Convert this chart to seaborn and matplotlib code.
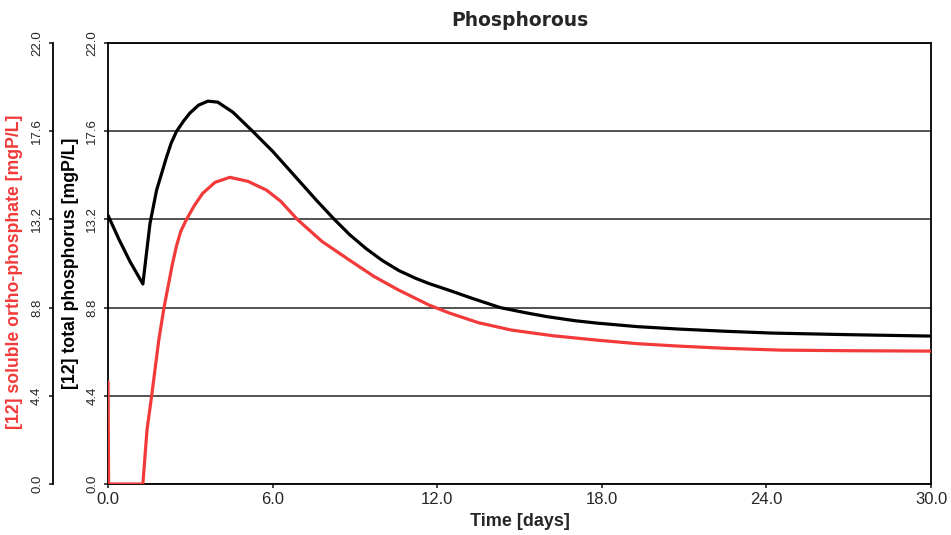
import pandas as pd
import seaborn as sns
import matplotlib.pyplot as plt

# values
time_total = [0.0, 0.4, 0.8, 1.27, 1.4, 1.53, 1.77, 2.13, 2.3, 2.5, 2.75, 2.98, 3.3, 3.64, 4.0, 4.55,
              5.27, 6.0, 6.98, 7.6, 8.25, 8.8, 9.4, 10.0, 10.6, 11.2, 11.7, 12.4, 13.3,
              14.3, 15.2, 16.0, 17.0, 17.8, 19.3, 20.8, 22.5, 24.2, 27.0, 30.0]
total_p = [13.4, 12.2, 11.1, 9.98, 11.5, 13.0, 14.66, 16.3, 17.0, 17.6, 18.1, 18.5, 18.9, 19.1, 19.05, 18.55,
           17.6, 16.6, 15.1, 14.15, 13.2, 12.45, 11.75, 11.15, 10.65, 10.27, 10.0, 9.68, 9.25,
           8.8, 8.55, 8.35, 8.15, 8.03, 7.85, 7.73, 7.62, 7.53, 7.45, 7.38]

time_ortho = [0.0, 0.02, 1.27, 1.42, 1.59, 1.85, 2.04, 2.35, 2.5, 2.65, 2.86, 3.15, 3.45, 3.9, 4.44,
              5.1, 5.78, 6.3, 6.9, 7.8, 8.8, 9.7, 10.6, 11.7, 12.44, 13.5, 14.7, 16.2,
              17.8, 19.3, 20.8, 22.5, 24.5, 27.0, 30.0]
ortho_p = [5.1, 0.0, 0.0, 2.69, 4.4, 7.18, 8.8, 11.0, 11.9, 12.6, 13.2, 13.9, 14.5, 15.05, 15.3,
           15.1, 14.66, 14.1, 13.2, 12.1, 11.17, 10.35, 9.67, 8.93, 8.53, 8.05, 7.68, 7.4,
           7.18, 7.0, 6.88, 6.77, 6.68, 6.65, 6.63]

y_ticks = [0.0, 4.4, 8.8, 13.2, 17.6, 22.0]
x_ticks = [0.0, 6.0, 12.0, 18.0, 24.0, 30.0]

red = '#f23a3a'

sns.set_style('white')
plt.rcParams['font.family'] = ['Liberation Sans', 'DejaVu Sans']

fig = plt.figure(figsize=(9.51, 5.35), dpi=100)
ax = fig.add_axes([0.1136, 0.0953, 0.8654, 0.8243])
ax2 = ax.twinx()

df_total = pd.DataFrame({'t': time_total, 'v': total_p})
df_ortho = pd.DataFrame({'t': time_ortho, 'v': ortho_p})

sns.lineplot(data=df_total, x='t', y='v', ax=ax, color='black', linewidth=2.3,
             estimator=None, sort=False, zorder=3)
sns.lineplot(data=df_ortho, x='t', y='v', ax=ax2, color=red, linewidth=2.3,
             estimator=None, sort=False, zorder=3)

# outer red axis on the left
ax2.yaxis.set_ticks_position('left')
ax2.yaxis.set_label_position('left')
ax2.spines['left'].set_position(('axes', -0.067))
ax2.spines['left'].set_visible(True)
ax2.spines['left'].set_color('black')
ax2.spines['left'].set_linewidth(1.3)
for k in ('right', 'top', 'bottom'):
    ax2.spines[k].set_visible(False)

for a in (ax, ax2):
    a.set_ylim(0, 22)
    a.set_yticks(y_ticks)
    a.set_yticklabels([f"{v:.1f}" for v in y_ticks])
    a.tick_params(axis='y', labelsize=9.5, labelrotation=90, direction='out',
                  length=3, width=1.2, pad=4, left=True, right=False)
    for lab in a.get_yticklabels():
        lab.set_va('center')

ax.set_xlim(0, 30)
ax.set_xticks(x_ticks)
ax.set_xticklabels([f"{v:.1f}" for v in x_ticks])
ax.tick_params(axis='x', labelsize=12, direction='out', length=3, width=1.2, pad=3, bottom=True)

# horizontal grid lines
ax.yaxis.grid(True, color='#444444', linewidth=1.3)
ax.set_axisbelow(True)

for s in ax.spines.values():
    s.set_visible(True)
    s.set_color('black')
    s.set_linewidth(1.3)

ax.set_ylabel('[12] total phosphorus [mgP/L]', fontsize=12.7, fontweight='bold', color='black')
ax.yaxis.set_label_coords(-0.035, 0.5)
ax2.set_ylabel('[12] soluble ortho-phosphate [mgP/L]', fontsize=12.7, fontweight='bold', color=red)
ax2.yaxis.set_label_coords(-0.103, 0.482)

ax.set_xlabel('Time [days]', fontsize=13, fontweight='bold', labelpad=4)
ax.set_title('Phosphorous', fontsize=13.5, fontweight='bold', family='DejaVu Sans', pad=12)

plt.savefig('out.png', dpi=100)
